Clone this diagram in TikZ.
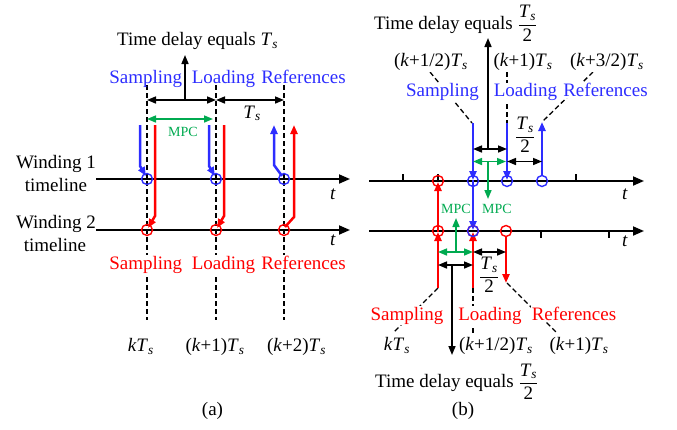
\documentclass[tikz,border=0pt]{standalone}
\usepackage{fontspec}
\setmainfont{Liberation Serif}
\usetikzlibrary{arrows.meta,calc}
\definecolor{cb}{RGB}{45,45,255}
\definecolor{cr}{RGB}{255,0,0}
\definecolor{cg}{RGB}{0,170,80}
\newcommand{\Ts}{\textit{T}\textsubscript{\textit{s}}}
\newcommand{\kk}{\textit{k}}
\newcommand{\hTs}{$\displaystyle\frac{\mbox{\Ts}}{\mbox{2}}$}
\tikzset{
  lbl/.style={font=\fontsize{19}{22}\selectfont, inner sep=0pt},
  wlbl/.style={lbl, fill=white, inner sep=1pt},
  mpc/.style={font=\fontsize{14}{16}\selectfont, text=cg, inner sep=0pt},
  axisline/.style={line width=1.8pt, -{Triangle[length=11pt,width=9pt]}},
  tickmark/.style={line width=1.4pt},
  dsh/.style={line width=1.3pt, dash pattern=on 5pt off 3pt},
  dimarr/.style={line width=1.6pt, {Triangle[length=9pt,width=7pt]}-{Triangle[length=9pt,width=7pt]}},
  oneway/.style={line width=1.6pt, -{Triangle[length=9pt,width=7pt]}},
  sig/.style={line width=2.5pt, -{Triangle[length=9pt,width=7pt]}},
  sigb/.style={sig, cb},
  sigr/.style={sig, cr},
  tmark/.style={circle, draw, line width=1.4pt, minimum size=11pt, inner sep=0pt},
}
\begin{document}
\begin{tikzpicture}[x=1pt,y=-1pt]
\useasboundingbox (0,0) rectangle (677,429);

% ================= panel (a) =================
\coordinate (aw1s) at (96,179);  \coordinate (aw1e) at (350,179);
\coordinate (aw2s) at (96,230);  \coordinate (aw2e) at (350,230);
\draw[axisline] (aw1s) -- (aw1e);
\draw[axisline] (aw2s) -- (aw2e);
\foreach \x/\n in {147/1,216/2,284/3}{
  \coordinate (adt\n) at (\x,85);
  \coordinate (adb\n) at (\x,320);
  \draw[dsh] (adt\n) -- (adb\n);
}
% signals
\coordinate (A1) at (147,179); \coordinate (A2) at (216,179); \coordinate (A3) at (284,179);
\coordinate (R1) at (147,230); \coordinate (R2) at (216,230); \coordinate (R3) at (284,230);
\draw[sigb] ($(A1)+(-7,-54)$) -- ($(A1)+(-7,-13)$) -- ($(A1)+(-1,-3)$);
\draw[sigb] ($(A2)+(-7,-54)$) -- ($(A2)+(-7,-13)$) -- ($(A2)+(-1,-3)$);
\draw[sigb] ($(A3)+(-2,-3)$) -- ($(A3)+(-10,-14)$) -- ($(A3)+(-10,-54)$);
\draw[sigr] ($(R1)+(8,-105)$) -- ($(R1)+(8,-14)$) -- ($(R1)+(1,-2)$);
\draw[sigr] ($(R2)+(8,-105)$) -- ($(R2)+(8,-14)$) -- ($(R2)+(1,-2)$);
\draw[sigr] ($(R3)+(1,-3)$) -- ($(R3)+(10,-13)$) -- ($(R3)+(10,-105)$);
\foreach \n in {1,2,3}{
  \node[tmark, draw=cb] (ac\n) at (A\n) {};
  \node[tmark, draw=cr] (rc\n) at (R\n) {};
}
% dimension arrows
\coordinate (ad1) at (147,100); \coordinate (ad2) at (216,100); \coordinate (ad3) at (284,100);
\coordinate (adm) at (185,100); \coordinate (adu) at (185,55);
\draw[dimarr] (ad1) -- (ad2);
\draw[dimarr] (ad2) -- (ad3);
\draw[oneway] (adm) -- (adu);
\coordinate (ag1) at (147,119); \coordinate (ag2) at (213,119);
\draw[dimarr, cg] (ag1) -- (ag2);
% texts
\node[lbl, anchor=base west] (atd) at (117,45.7) {Time delay equals \Ts};
\node[lbl, text=cb, anchor=base] (asb) at (145.7,83.3) {Sampling};
\node[lbl, text=cb, anchor=base] (alb) at (223.5,83.3) {Loading};
\node[lbl, text=cb, anchor=base] (arb) at (303.5,83.3) {References};
\node[lbl, anchor=base] (ats) at (252,118) {\Ts};
\node[mpc, anchor=base] (ampc) at (183,136.7) {MPC};
\node[lbl, anchor=base] (aw1a) at (56,168) {Winding 1};
\node[lbl, anchor=base] (aw1b) at (56,191.7) {timeline};
\node[lbl, anchor=base] (aw2a) at (56,228) {Winding 2};
\node[lbl, anchor=base] (aw2b) at (55,251.7) {timeline};
\node[lbl, anchor=base] (at1) at (333,199) {\textit{t}};
\node[lbl, anchor=base] (at2) at (333,245) {\textit{t}};
\node[wlbl, text=cr, anchor=base] (asr) at (145.7,269) {Sampling};
\node[wlbl, text=cr, anchor=base] (alr) at (223.5,269) {Loading};
\node[wlbl, text=cr, anchor=base] (arr) at (303.5,269) {References};
\node[lbl, anchor=base] (ak0) at (140.8,351.7) {\kk\Ts};
\node[lbl, anchor=base] (ak1) at (215,351.7) {(\kk+1)\Ts};
\node[lbl, anchor=base] (ak2) at (296.5,351.7) {(\kk+2)\Ts};
\node[lbl] (acap) at (212.5,411) {(a)};

% ================= panel (b) =================
\coordinate (bw1s) at (369,181); \coordinate (bw1e) at (644,181);
\coordinate (bw2s) at (369,231); \coordinate (bw2e) at (644,231);
\draw[axisline] (bw1s) -- (bw1e);
\draw[axisline] (bw2s) -- (bw2e);
\foreach \x in {403,438,576}{ \draw[tickmark] (\x,181) -- (\x,174); }
\foreach \x in {541,609}{ \draw[tickmark] (\x,231) -- (\x,238); }
% dashed leaders
\draw[dsh] (430,72) -- (472,123);
\draw[dsh] (507,72) -- (507,123);
\draw[dsh] (593,72) -- (542,122);
\draw[dsh] (438,288) -- (393,333);
\draw[dsh] (473,288) -- (473,333);
\draw[dsh] (507,283) -- (557,333);
% signals
\coordinate (B0) at (438,181); \coordinate (B1) at (473,181); \coordinate (B2) at (507,181); \coordinate (B3) at (542,181);
\coordinate (C0) at (438,231); \coordinate (C1) at (473,231); \coordinate (C2) at (506,231);
\draw[sigr] ($(C0)+(0,57)$) -- ($(C0)+(0,1)$);
\draw[sigr] ($(C0)+(0,1)$) -- ($(B0)+(0,1)$);
\draw[sigr] ($(C1)+(0,57)$) -- ($(C1)+(0,1)$);
\draw[sigr] ($(C2)+(0,5)$) -- ($(C2)+(0,52)$);
\draw[sigb] ($(B1)+(0,-58)$) -- ($(B1)+(0,-1)$);
\draw[sigb] ($(B1)+(0,-1)$) -- ($(C1)+(0,-1)$);
\draw[sigb] ($(B2)+(0,-58)$) -- ($(B2)+(0,-1)$);
\draw[sigb] ($(B3)+(0,-5)$) -- ($(B3)+(0,-59)$);
\node[tmark, draw=cr] (bc0) at (B0) {};
\node[tmark, draw=cb] (bc1) at (B1) {};
\node[tmark, draw=cb] (bc2) at (B2) {};
\node[tmark, draw=cb] (bc3) at (B3) {};
\node[tmark, draw=cr] (cc0) at (C0) {};
\node[tmark, draw=cr] (cc1r) at (C1) {};
\node[tmark, draw=cb] (cc1b) at (C1) {};
\node[tmark, draw=cr] (cc2) at (C2) {};
% top dimension arrows
\coordinate (bd1) at (473,149); \coordinate (bd2) at (507,149);
\coordinate (bdm) at (488,149); \coordinate (bdu) at (488,38);
\draw[dimarr] (bd1) -- (bd2);
\draw[oneway] (bdm) -- (bdu);
\coordinate (bg1) at (473,161.5); \coordinate (bg2) at (506,161.5);
\coordinate (bgm) at (488,161.5); \coordinate (bgd) at (488,199);
\draw[dimarr, cg] (bg1) -- (bg2);
\draw[oneway, cg] (bgm) -- (bgd);
\coordinate (bh1) at (507,161.5); \coordinate (bh2) at (542,161.5);
\draw[dimarr] (bh1) -- (bh2);
% bottom dimension arrows
\coordinate (bk1) at (438,252); \coordinate (bk2) at (473,252);
\coordinate (bkm) at (456,252); \coordinate (bku) at (456,218);
\draw[dimarr, cg] (bk1) -- (bk2);
\draw[oneway, cg] (bkm) -- (bku);
\coordinate (bl1) at (473,252); \coordinate (bl2) at (506,252);
\draw[dimarr] (bl1) -- (bl2);
\coordinate (bm1) at (438,265); \coordinate (bm2) at (473,265);
\coordinate (bmm) at (452,265); \coordinate (bmd) at (452,355);
\draw[dimarr] (bm1) -- (bm2);
\draw[oneway] (bmm) -- (bmd);
% texts
\node[lbl, anchor=base west] (btd) at (374,29.3) {Time delay equals \hTs};
\node[wlbl, anchor=base] (bk12) at (431,66.7) {(\kk+1/2)\Ts};
\node[wlbl, anchor=base] (bk1t) at (523,66.7) {(\kk+1)\Ts};
\node[wlbl, anchor=base] (bk32) at (607,66.7) {(\kk+3/2)\Ts};
\node[wlbl, text=cb, anchor=base] (bsb) at (442.5,96.7) {Sampling};
\node[wlbl, text=cb, anchor=base] (blb) at (525.5,96.7) {Loading};
\node[wlbl, text=cb, anchor=base] (brb) at (605.5,96.7) {References};
\node[lbl] (bh) at (525,135) {\hTs};
\node[mpc, anchor=base] (bmpc1) at (456,213.3) {MPC};
\node[mpc, anchor=base] (bmpc2) at (497,213.3) {MPC};
\node[lbl, anchor=base] (bt1) at (625,199.3) {\textit{t}};
\node[lbl, anchor=base] (bt2) at (625,246) {\textit{t}};
\node[lbl] (bh2) at (489,275) {\hTs};
\node[wlbl, text=cr, anchor=base] (bsr) at (407,320) {Sampling};
\node[wlbl, text=cr, anchor=base] (blr) at (490,320) {Loading};
\node[wlbl, text=cr, anchor=base] (brr) at (574,320) {References};
\node[wlbl, anchor=base] (bkk) at (397,350.7) {\kk\Ts};
\node[wlbl, anchor=base] (bkh) at (496,350.7) {(\kk+1/2)\Ts};
\node[wlbl, anchor=base] (bk1b) at (579,350.7) {(\kk+1)\Ts};
\node[lbl, anchor=base west] (btd2) at (375,387.7) {Time delay equals \hTs};
\node[lbl] (bcap) at (463,411) {(b)};
\end{tikzpicture}
\end{document}
